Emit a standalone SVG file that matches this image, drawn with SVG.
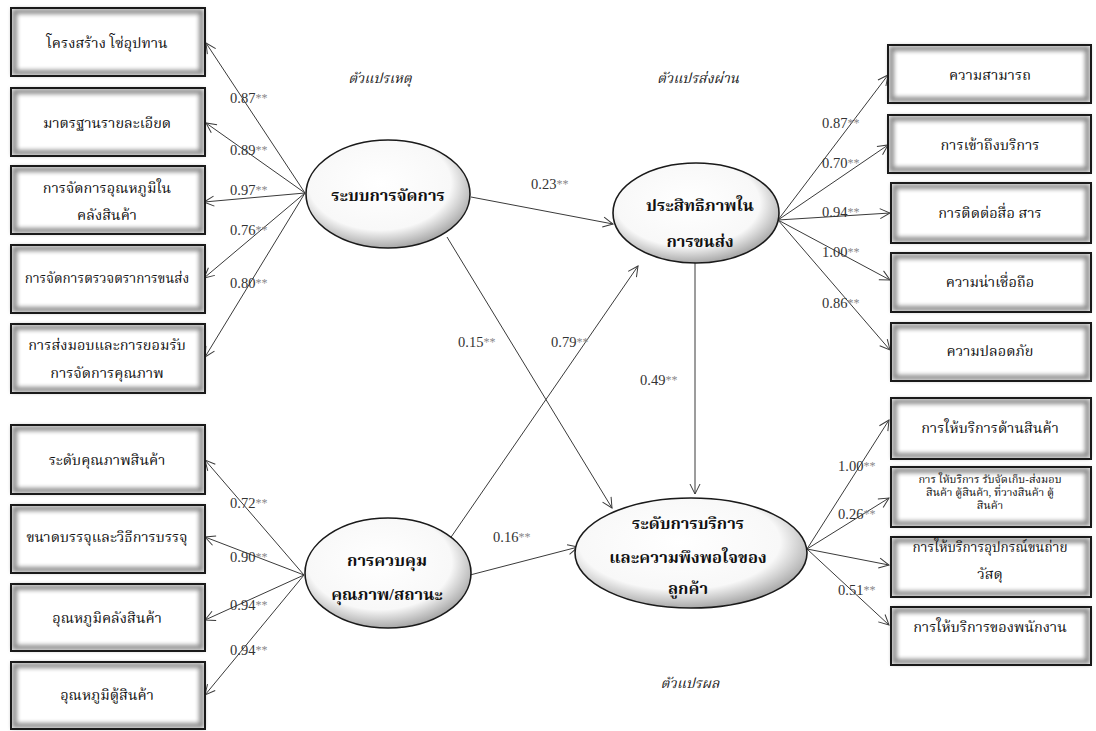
<svg xmlns="http://www.w3.org/2000/svg" width="1096" height="731" viewBox="0 0 1096 731">
  <style>
    .bg { fill: #fff; }
    .glow { fill: none; stroke: #8c8c8c; stroke-width: 5; filter: url(#soft); }
    .edge { fill: none; stroke: #1a1a1a; stroke-width: 2; }
    .ell { fill: url(#ellGrad); stroke: #1a1a1a; stroke-width: 1.6; }
    .bt { font-family: "Liberation Serif", "Noto Serif Thai", "Noto Sans Thai", serif; font-size: 14.5px; fill: #111; text-anchor: middle; dominant-baseline: central; }
    .bs { font-size: 11px; }
    .bm { font-size: 13.5px; }
    .et { font-family: "Liberation Serif", "Noto Serif Thai", "Noto Sans Thai", serif; font-size: 16.5px; font-weight: bold; fill: #111; text-anchor: middle; dominant-baseline: central; }
    .hd { font-family: "Liberation Serif", "Noto Serif Thai", "Noto Sans Thai", serif; font-size: 14px; font-style: italic; fill: #222; text-anchor: middle; dominant-baseline: central; }
    .lb { font-family: "Liberation Serif", serif; font-size: 14.5px; fill: #333; dominant-baseline: central; }
    .st { fill: #888; font-size: 12px; }
    .cn { stroke: #3a3a3a; stroke-width: 1; fill: none; marker-end: url(#arr); }
  </style>
  <defs>
    <marker id="arr" markerWidth="12" markerHeight="12" refX="11" refY="6" orient="auto" markerUnits="userSpaceOnUse">
      <path d="M1,1 L11,6 L1,11" fill="none" stroke="#3a3a3a" stroke-width="1"/>
    </marker>
    <radialGradient id="ellGrad" cx="45%" cy="40%" r="62%">
      <stop offset="0" stop-color="#ffffff"/>
      <stop offset="0.7" stop-color="#f8f8f8"/>
      <stop offset="1" stop-color="#a0a0a0"/>
    </radialGradient>
    <!-- soft grey band drawn just inside each indicator box -->
    <filter id="soft" x="-10%" y="-20%" width="120%" height="140%">
      <feGaussianBlur stdDeviation="2"/>
    </filter>
  </defs>

  <rect width="1096" height="731" fill="#fff"/>

  <!-- section headings -->
  <text class="hd" x="380" y="78">ตัวแปรเหตุ</text>
  <text class="hd" x="698" y="78">ตัวแปรส่งผ่าน</text>
  <text class="hd" x="690" y="683">ตัวแปรผล</text>

  <!-- connectors -->
  <g id="connectors">
    <!-- management system indicators -->
    <line class="cn" x1="305" y1="193" x2="206" y2="43"/>
    <line class="cn" x1="305" y1="193" x2="206" y2="123"/>
    <line class="cn" x1="305" y1="193" x2="204" y2="202"/>
    <line class="cn" x1="305" y1="193" x2="204" y2="278"/>
    <line class="cn" x1="305" y1="193" x2="205" y2="357"/>
    <!-- quality control indicators -->
    <line class="cn" x1="304" y1="575" x2="205" y2="460"/>
    <line class="cn" x1="304" y1="575" x2="205" y2="537"/>
    <line class="cn" x1="304" y1="575" x2="205" y2="620"/>
    <line class="cn" x1="304" y1="575" x2="205" y2="695"/>
    <!-- transport efficiency indicators -->
    <line class="cn" x1="778" y1="220" x2="888" y2="75"/>
    <line class="cn" x1="778" y1="220" x2="888" y2="145"/>
    <line class="cn" x1="778" y1="220" x2="890" y2="213"/>
    <line class="cn" x1="778" y1="220" x2="890" y2="280"/>
    <line class="cn" x1="778" y1="220" x2="890" y2="350"/>
    <!-- service level indicators -->
    <line class="cn" x1="807" y1="549" x2="889" y2="420"/>
    <line class="cn" x1="807" y1="549" x2="889" y2="498"/>
    <line class="cn" x1="807" y1="549" x2="889" y2="565"/>
    <line class="cn" x1="807" y1="549" x2="889" y2="625"/>
    <!-- structural paths -->
    <line class="cn" x1="471" y1="197" x2="613" y2="224"/>
    <line class="cn" x1="447" y1="543" x2="638" y2="266"/>
    <line class="cn" x1="447" y1="237" x2="612" y2="508"/>
    <line class="cn" x1="470" y1="575" x2="578" y2="547"/>
    <line class="cn" x1="695" y1="262" x2="695" y2="494"/>
  </g>

  <!-- path coefficients -->
  <g id="coefficients">
    <text class="lb" x="230" y="98">0.87<tspan class="st">**</tspan></text>
    <text class="lb" x="230" y="150">0.89<tspan class="st">**</tspan></text>
    <text class="lb" x="230" y="190">0.97<tspan class="st">**</tspan></text>
    <text class="lb" x="230" y="230">0.76<tspan class="st">**</tspan></text>
    <text class="lb" x="230" y="283">0.80<tspan class="st">**</tspan></text>
    <text class="lb" x="230" y="503">0.72<tspan class="st">**</tspan></text>
    <text class="lb" x="230" y="557">0.90<tspan class="st">**</tspan></text>
    <text class="lb" x="230" y="605">0.94<tspan class="st">**</tspan></text>
    <text class="lb" x="230" y="650">0.94<tspan class="st">**</tspan></text>
    <text class="lb" x="822" y="123">0.87<tspan class="st">**</tspan></text>
    <text class="lb" x="822" y="163">0.70<tspan class="st">**</tspan></text>
    <text class="lb" x="822" y="212">0.94<tspan class="st">**</tspan></text>
    <text class="lb" x="822" y="252">1.00<tspan class="st">**</tspan></text>
    <text class="lb" x="822" y="303">0.86<tspan class="st">**</tspan></text>
    <text class="lb" x="838" y="466">1.00<tspan class="st">**</tspan></text>
    <text class="lb" x="838" y="514">0.26<tspan class="st">**</tspan></text>
    <text class="lb" x="838" y="590">0.51<tspan class="st">**</tspan></text>
    <text class="lb" x="531" y="184">0.23<tspan class="st">**</tspan></text>
    <text class="lb" x="458" y="342">0.15<tspan class="st">**</tspan></text>
    <text class="lb" x="551" y="342">0.79<tspan class="st">**</tspan></text>
    <text class="lb" x="493" y="537">0.16<tspan class="st">**</tspan></text>
    <text class="lb" x="640" y="380">0.49<tspan class="st">**</tspan></text>
  </g>

  <!-- left indicator boxes: management system -->
  <g id="box-l1"><rect class="bg" x="11" y="8" width="194" height="68"/><rect class="glow" x="14.5" y="11.5" width="187" height="61"/><rect class="edge" x="11" y="8" width="194" height="68"/><text class="bt" x="107" y="43">โครงสร้าง โซ่อุปทาน</text></g>
  <g id="box-l2"><rect class="bg" x="11" y="88" width="194" height="68"/><rect class="glow" x="14.5" y="91.5" width="187" height="61"/><rect class="edge" x="11" y="88" width="194" height="68"/><text class="bt" x="107" y="123">มาตรฐานรายละเอียด</text></g>
  <g id="box-l3"><rect class="bg" x="11" y="166" width="194" height="68"/><rect class="glow" x="14.5" y="169.5" width="187" height="61"/><rect class="edge" x="11" y="166" width="194" height="68"/><text class="bt" x="107" y="188">การจัดการอุณหภูมิใน</text><text class="bt" x="107" y="215">คลังสินค้า</text></g>
  <g id="box-l4"><rect class="bg" x="11" y="245" width="194" height="68"/><rect class="glow" x="14.5" y="248.5" width="187" height="61"/><rect class="edge" x="11" y="245" width="194" height="68"/><text class="bt bm" x="107" y="278">การจัดการตรวจตราการขนส่ง</text></g>
  <g id="box-l5"><rect class="bg" x="11" y="324" width="194" height="69"/><rect class="glow" x="14.5" y="327.5" width="187" height="62"/><rect class="edge" x="11" y="324" width="194" height="69"/><text class="bt" x="107" y="345">การส่งมอบและการยอมรับ</text><text class="bt" x="107" y="373">การจัดการคุณภาพ</text></g>

  <!-- left indicator boxes: quality control -->
  <g id="box-l6"><rect class="bg" x="11" y="425" width="194" height="69"/><rect class="glow" x="14.5" y="428.5" width="187" height="62"/><rect class="edge" x="11" y="425" width="194" height="69"/><text class="bt" x="107" y="460">ระดับคุณภาพสินค้า</text></g>
  <g id="box-l7"><rect class="bg" x="11" y="505" width="194" height="68"/><rect class="glow" x="14.5" y="508.5" width="187" height="61"/><rect class="edge" x="11" y="505" width="194" height="68"/><text class="bt" x="107" y="537">ขนาดบรรจุและวิธีการบรรจุ</text></g>
  <g id="box-l8"><rect class="bg" x="11" y="584" width="194" height="67"/><rect class="glow" x="14.5" y="587.5" width="187" height="60"/><rect class="edge" x="11" y="584" width="194" height="67"/><text class="bt" x="107" y="618">อุณหภูมิคลังสินค้า</text></g>
  <g id="box-l9"><rect class="bg" x="11" y="662" width="194" height="67"/><rect class="glow" x="14.5" y="665.5" width="187" height="60"/><rect class="edge" x="11" y="662" width="194" height="67"/><text class="bt" x="107" y="695">อุณหภูมิตู้สินค้า</text></g>

  <!-- right indicator boxes: transport efficiency -->
  <g id="box-r1"><rect class="bg" x="888" y="45" width="203" height="58"/><rect class="glow" x="891.5" y="48.5" width="196" height="51"/><rect class="edge" x="888" y="45" width="203" height="58"/><text class="bt" x="990" y="75">ความสามารถ</text></g>
  <g id="box-r2"><rect class="bg" x="888" y="115" width="203" height="58"/><rect class="glow" x="891.5" y="118.5" width="196" height="51"/><rect class="edge" x="888" y="115" width="203" height="58"/><text class="bt" x="990" y="145">การเข้าถึงบริการ</text></g>
  <g id="box-r3"><rect class="bg" x="891" y="183" width="200" height="60"/><rect class="glow" x="894.5" y="186.5" width="193" height="53"/><rect class="edge" x="891" y="183" width="200" height="60"/><text class="bt" x="990" y="213">การติดต่อสื่อ สาร</text></g>
  <g id="box-r4"><rect class="bg" x="891" y="253" width="200" height="59"/><rect class="glow" x="894.5" y="256.5" width="193" height="52"/><rect class="edge" x="891" y="253" width="200" height="59"/><text class="bt" x="990" y="282">ความน่าเชื่อถือ</text></g>
  <g id="box-r5"><rect class="bg" x="891" y="323" width="200" height="58"/><rect class="glow" x="894.5" y="326.5" width="193" height="51"/><rect class="edge" x="891" y="323" width="200" height="58"/><text class="bt" x="990" y="351">ความปลอดภัย</text></g>

  <!-- right indicator boxes: service level -->
  <g id="box-r6"><rect class="bg" x="891" y="398" width="200" height="61"/><rect class="glow" x="894.5" y="401.5" width="193" height="54"/><rect class="edge" x="891" y="398" width="200" height="61"/><text class="bt" x="990" y="428">การให้บริการด้านสินค้า</text></g>
  <g id="box-r7"><rect class="bg" x="891" y="467" width="200" height="60"/><rect class="glow" x="894.5" y="470.5" width="193" height="53"/><rect class="edge" x="891" y="467" width="200" height="60"/><text class="bt bs" x="990" y="479">การ ให้บริการ รับจัดเก็บ-ส่งมอบ</text><text class="bt bs" x="990" y="492">สินค้า ตู้สินค้า, ที่วางสินค้า ตู้</text><text class="bt bs" x="990" y="505">สินค้า</text></g>
  <g id="box-r8"><rect class="bg" x="891" y="537" width="200" height="60"/><rect class="glow" x="894.5" y="540.5" width="193" height="53"/><rect class="edge" x="891" y="537" width="200" height="60"/><text class="bt bm" x="990" y="547">การให้บริการอุปกรณ์ขนถ่าย</text><text class="bt" x="990" y="574">วัสดุ</text></g>
  <g id="box-r9"><rect class="bg" x="891" y="607" width="200" height="58"/><rect class="glow" x="894.5" y="610.5" width="193" height="51"/><rect class="edge" x="891" y="607" width="200" height="58"/><text class="bt" x="990" y="627">การให้บริการของพนักงาน</text></g>

  <!-- latent variables -->
  <g id="lat-management"><ellipse class="ell" cx="388" cy="194" rx="82" ry="54"/><text class="et" x="388" y="195">ระบบการจัดการ</text></g>
  <g id="lat-efficiency"><ellipse class="ell" cx="696" cy="213" rx="83" ry="50"/><text class="et" x="700" y="205">ประสิทธิภาพใน</text><text class="et" x="700" y="241">การขนส่ง</text></g>
  <g id="lat-quality"><ellipse class="ell" cx="388" cy="573" rx="83" ry="55"/><text class="et" x="387" y="560">การควบคุม</text><text class="et" x="387" y="594">คุณภาพ/สถานะ</text></g>
  <g id="lat-service"><ellipse class="ell" cx="691" cy="553" rx="116" ry="55"/><text class="et" x="688" y="523">ระดับการบริการ</text><text class="et" x="688" y="557">และความพึงพอใจของ</text><text class="et" x="688" y="588">ลูกค้า</text></g>
</svg>
